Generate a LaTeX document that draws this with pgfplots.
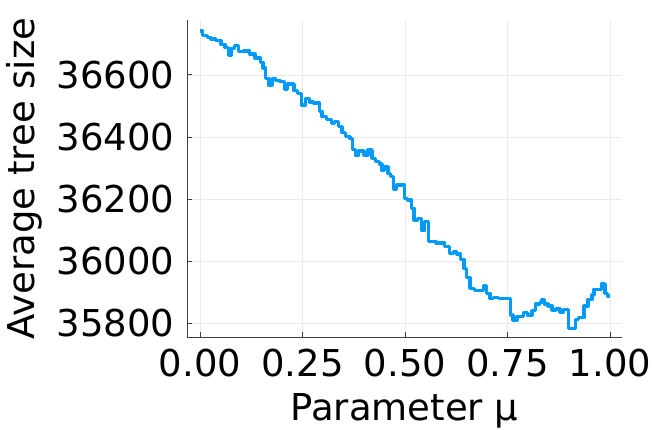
\documentclass[border=0pt]{standalone}
\usepackage{pgfplots}
\pgfplotsset{compat=1.18}
\usepackage{fontspec}
\setmainfont{DejaVu Sans}
\definecolor{jblue}{RGB}{0,154,250}
\begin{document}
\fontsize{37}{44}\selectfont
\begin{tikzpicture}
\begin{axis}[
  scale only axis,
  width=435pt, height=317pt,
  xmin=-0.032, xmax=1.029,
  ymin=35755, ymax=36777,
  axis x line*=bottom, axis y line*=left,
  axis line style={black!75, line width=0.9pt},
  tick align=inside,
  major tick length=5pt,
  tick style={black!75, line width=0.8pt},
  xtick={0,0.25,0.5,0.75,1},
  ytick={35800,36000,36200,36400,36600},
  scaled ticks=false,
  xticklabel={\pgfmathprintnumber[fixed,fixed zerofill,precision=2,assume math mode=true]{\tick}},
  yticklabel={\pgfmathprintnumber[fixed,1000 sep={},precision=0,assume math mode=true]{\tick}},
  grid=major,
  major grid style={black!8, line width=0.6pt},
  xlabel={Parameter μ},
  ylabel={Average tree size},
  xlabel shift=-9pt,
  ylabel shift=-10pt,
  every tick label/.append style={font=\fontsize{37}{44}\selectfont},
  label style={font=\fontsize{37}{44}\selectfont},
]
\addplot[const plot, color=jblue, line width=3.3pt, line join=round] coordinates {
(0.000,36742) (0.0056,36727) (0.0188,36720) (0.0268,36716) (0.0383,36710)
(0.0512,36699) (0.0610,36688) (0.0690,36662) (0.0756,36684) (0.0837,36695)
(0.0934,36675) (0.1066,36677) (0.1212,36667) (0.1341,36654) (0.1471,36641)
(0.1537,36622) (0.1602,36589) (0.1683,36565) (0.1763,36587) (0.1846,36581)
(0.1951,36578) (0.2066,36554) (0.2129,36571) (0.2293,36549) (0.2373,36541)
(0.2471,36503) (0.2568,36525) (0.2666,36513) (0.2763,36509) (0.2910,36482)
(0.2976,36465) (0.3090,36457) (0.3202,36444) (0.3285,36449) (0.3383,36433)
(0.3463,36414) (0.3544,36401) (0.3659,36395) (0.3724,36360) (0.3788,36342)
(0.3871,36355) (0.4000,36342) (0.4098,36358) (0.4195,36331) (0.4276,36320)
(0.4373,36313) (0.4439,36291) (0.4505,36304) (0.4585,36281) (0.4651,36272)
(0.4715,36231) (0.4798,36245) (0.4993,36202) (0.5056,36197) (0.5154,36170)
(0.5220,36132) (0.5300,36138) (0.5398,36100) (0.5480,36127) (0.5578,36062)
(0.5756,36058) (0.5968,36046) (0.6080,36025) (0.6178,36029) (0.6261,36023)
(0.6359,36005) (0.6439,35976) (0.6505,35947) (0.6585,35912) (0.6700,35906)
(0.6846,35904) (0.6910,35922) (0.6993,35896) (0.7073,35880) (0.7154,35883)
(0.7276,35880) (0.7480,35879) (0.7578,35826) (0.7634,35810) (0.7732,35820)
(0.7885,35833) (0.7983,35826) (0.8098,35840) (0.8178,35861) (0.8276,35866)
(0.8341,35876) (0.8407,35861) (0.8488,35855) (0.8585,35842) (0.8683,35845)
(0.8780,35836) (0.8861,35844) (0.8993,35783) (0.9154,35812) (0.9237,35817)
(0.9366,35855) (0.9463,35876) (0.9561,35890) (0.9610,35909) (0.9788,35926)
(0.9878,35896) (0.9934,35887) (1.000,35887)
};
\end{axis}
\pgfresetboundingbox
\path (current axis.south west) ++(-187pt,-93pt) rectangle ++(652pt,430pt);
\end{tikzpicture}
\end{document}
